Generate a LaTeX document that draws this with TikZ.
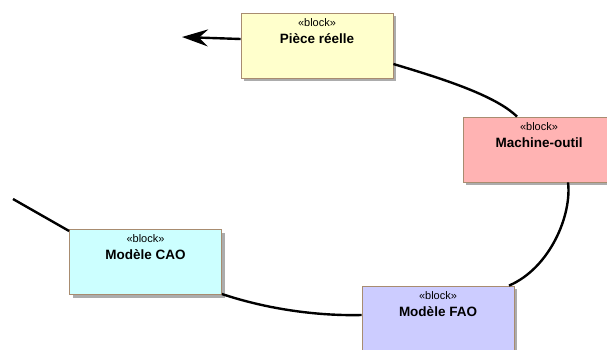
\documentclass[tikz,border=0pt]{standalone}
\usepackage{fontspec}
\setmainfont{Liberation Sans}
\usetikzlibrary{arrows.meta,calc,shadows}
\definecolor{bord}{RGB}{168,140,112}
\definecolor{shad}{RGB}{172,172,172}
\definecolor{cyel}{RGB}{255,255,204}
\definecolor{cred}{RGB}{255,179,179}
\definecolor{ccya}{RGB}{204,255,255}
\definecolor{cblu}{RGB}{204,204,255}
\tikzset{
  blk/.style={draw=bord, line width=0.8pt, minimum width=152pt, minimum height=65pt, inner sep=0pt,
    general shadow={fill=shad, shadow xshift=3pt, shadow yshift=-3pt}},
  stereo/.style={anchor=base, inner sep=0pt, font=\fontsize{11}{12}\selectfont},
  bname/.style={anchor=base, inner sep=0pt, font=\fontsize{13.5}{15}\selectfont\bfseries},
  conn/.style={line width=2.4pt, black}
}
\begin{document}
\begin{tikzpicture}[x=1pt,y=-1pt]
\useasboundingbox (0,0) rectangle (607,349);
\clip (0,0) rectangle (607,349);
% blocks
\node[blk, fill=cyel] (p) at (317,45.5) {};
\node[stereo] (pS) at ($(p.north)+(0,13.5)$) {«block»};
\node[bname] (pN) at ($(p.north)+(0,30.5)$) {Pièce réelle};

\node[blk, fill=cred] (m) at (539,149.5) {};
\node[stereo] (mS) at ($(m.north)+(0,13.5)$) {«block»};
\node[bname] (mN) at ($(m.north)+(0,30.5)$) {Machine-outil};

\node[blk, fill=ccya] (c) at (145.5,262) {};
\node[stereo] (cS) at ($(c.north)+(0,13.5)$) {«block»};
\node[bname] (cN) at ($(c.north)+(0,30.5)$) {Modèle CAO};

\node[blk, fill=cblu] (f) at (438,318.5) {};
\node[stereo] (fS) at ($(f.north)+(0,13.5)$) {«block»};
\node[bname] (fN) at ($(f.north)+(0,30.5)$) {Modèle FAO};

% connectors
\coordinate (tip) at (182,37);
\coordinate (free) at (13,199);
\draw[conn, -{Stealth[length=26pt 0 0,width=17pt 0 0,inset=9pt 0 0]}] ($(p.west)+(0,-6.5)$) -- (tip);
\draw[conn] ($(p.east)+(0,18.5)$) .. controls (440,78) and (495,95) .. ($(m.north)+(-22,0)$);
\draw[conn] ($(m.south)+(29,0)$) .. controls (572,215) and (550,268) .. ($(f.north)+(71,0)$);
\draw[conn] ($(f.west)+(0,-3.5)$) .. controls (320,316) and (270,310) .. ($(c.east)+(0,32)$);
\draw[conn] ($(c.west)+(0,-31)$) -- (free);
\end{tikzpicture}
\end{document}
